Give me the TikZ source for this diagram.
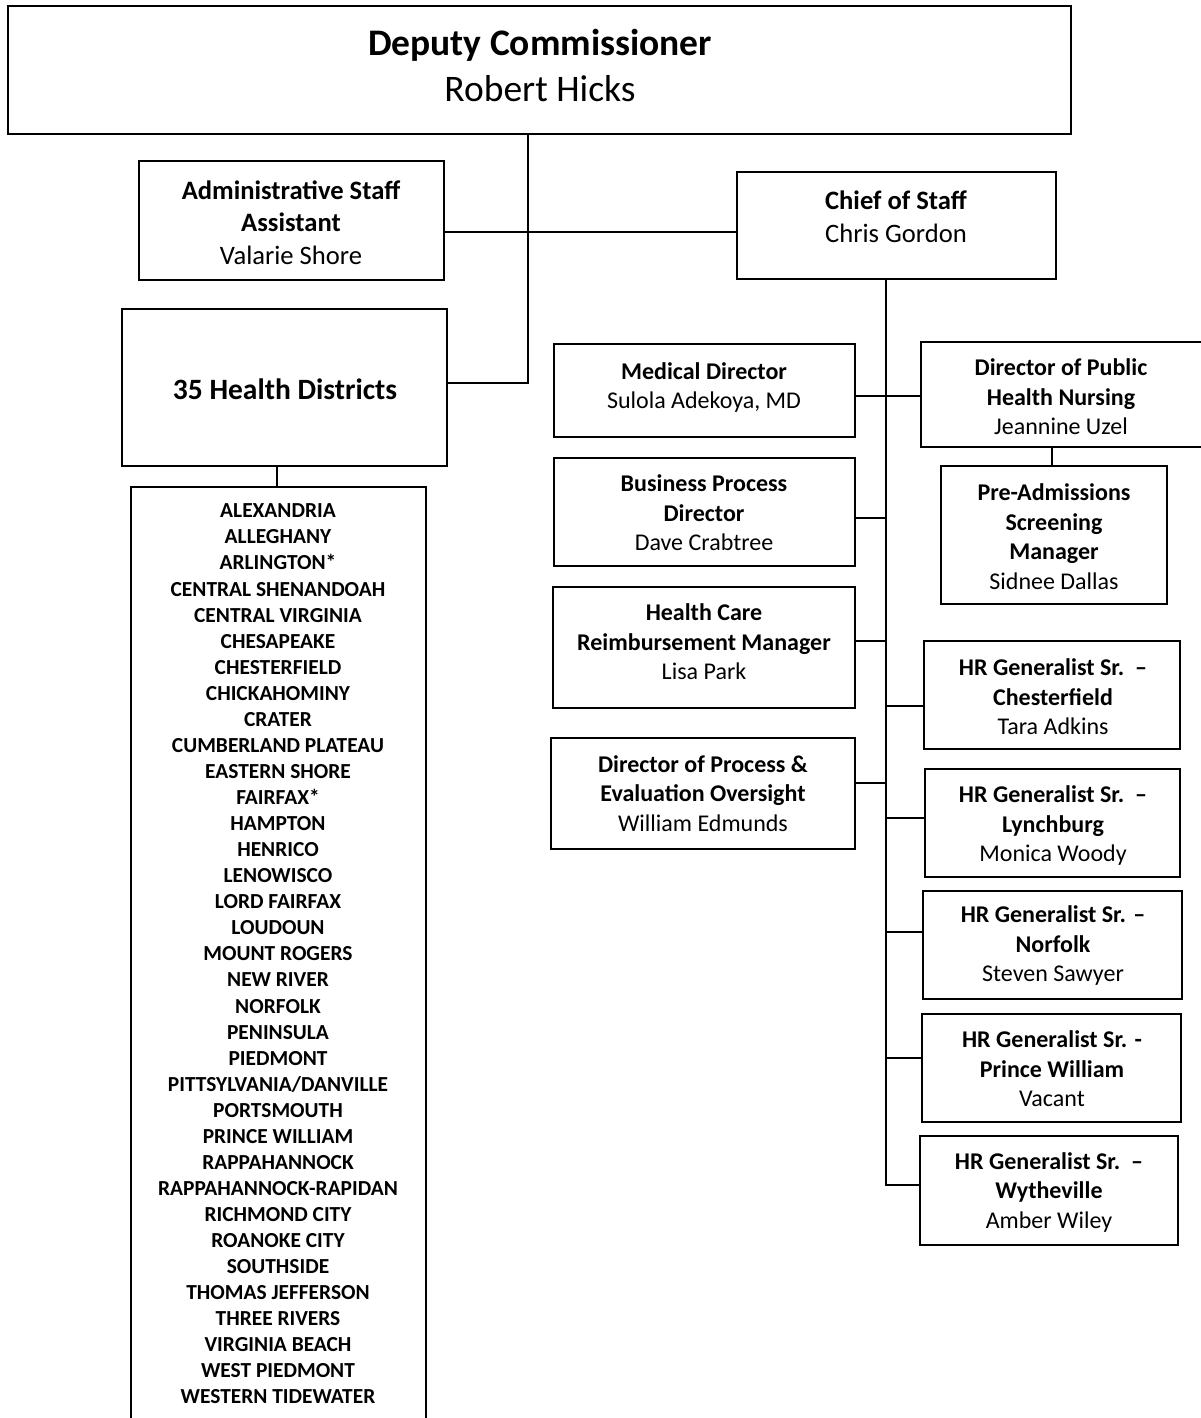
\documentclass[tikz,border=0pt]{standalone}
\usepackage{fontspec}
\setmainfont{Carlito}
\newcommand\obox[6]{\node[box, minimum width={(#4-#2)*1pt}, minimum height={(#5-#3)*1pt}] (#1) at ({(#2+#4)/2},{(#3+#5)/2}) {};}
\begin{document}
\begin{tikzpicture}[x=1pt,y=-1pt,
  box/.style={draw, line width=1.8pt, inner sep=0pt, rectangle},
  txt/.style={align=center, inner sep=0pt, font=\fontsize{24}{29.5}\selectfont},
  txtb/.style={align=center, inner sep=0pt, font=\fontsize{26.6}{32.5}\selectfont},
  big/.style={align=center, inner sep=0pt, font=\fontsize{37.5}{46}\selectfont},
  lst/.style={align=center, inner sep=0pt, font=\fontsize{21.4}{26.06}\selectfont\bfseries},
  link/.style={line width=1.8pt}]
\useasboundingbox (0,0) rectangle (1201,1418);
\fill[white] (0,0) rectangle (1201,1418);

% boxes
\obox{dep}{8}{6}{1071}{134}{}
\obox{adm}{139}{161}{444}{280}{}
\obox{hd}{122}{309}{447}{466}{}
\obox{lst}{131}{487}{426}{1440}{}
\obox{cos}{737}{172}{1056}{279}{}
\obox{md}{554}{344}{855}{437}{}
\obox{ph}{921}{342}{1210}{447}{}
\obox{pa}{941}{466}{1167}{604}{}
\obox{bp}{554}{458}{855}{566}{}
\obox{hc}{553}{587}{855}{708}{}
\obox{po}{551}{738}{855}{849}{}
\obox{hr1}{924}{641}{1180}{749}{}
\obox{hr2}{925}{769}{1180}{877}{}
\obox{hr3}{923}{891}{1182}{999}{}
\obox{hr4}{922}{1014}{1181}{1122}{}
\obox{hr5}{920}{1136}{1178}{1245}{}

% texts
\node[big] (tdep) at (540,65) {\textbf{Deputy Commissioner}\\Robert Hicks};
\node[txtb] (tadm) at (291,222.5) {\textbf{Administrative Staff}\\\textbf{Assistant}\\Valarie Shore};
\node[txt, font=\fontsize{29.5}{34}\selectfont] (thd) at (285,389) {\textbf{35 Health Districts}};
\node[txtb] (tcos) at (896,217) {\textbf{Chief of Staff}\\Chris Gordon};
\node[txt] (tmd) at (704,387.5) {\textbf{Medical Director}\\Sulola Adekoya, MD};
\node[txt] (tph) at (1061,397) {\textbf{Director of Public}\\\textbf{Health Nursing}\\Jeannine Uzel};
\node[txt] (tpa) at (1054,536.5) {\textbf{Pre-Admissions}\\\textbf{Screening}\\\textbf{Manager}\\Sidnee Dallas};
\node[txt] (tbp) at (704,513) {\textbf{Business Process}\\\textbf{Director}\\Dave Crabtree};
\node[txt] (thc) at (704,642) {\textbf{Health Care}\\\textbf{Reimbursement Manager}\\Lisa Park};
\node[txt] (tpo) at (703,793.5) {\textbf{Director of Process \&}\\\textbf{Evaluation Oversight}\\William Edmunds};
\node[txt] (thr1) at (1053,697) {\textbf{HR Generalist Sr.\ \ –}\\\textbf{Chesterfield}\\Tara Adkins};
\node[txt] (thr2) at (1053,826) {\textbf{HR Generalist Sr.\ \ –}\\\textbf{Lynchburg}\\Monica Woody};
\node[txt] (thr3) at (1053,946) {\textbf{HR Generalist Sr. –}\\\textbf{Norfolk}\\Steven Sawyer};
\node[txt] (thr4) at (1052,1069) {\textbf{HR Generalist Sr. -}\\\textbf{Prince William}\\Vacant};
\node[txt] (thr5) at (1049,1192) {\textbf{HR Generalist Sr.\ \ –}\\\textbf{Wytheville}\\Amber Wiley};
\node[lst] (tlst) at (278,954) {ALEXANDRIA\\ALLEGHANY\\ARLINGTON*\\CENTRAL SHENANDOAH\\CENTRAL VIRGINIA\\CHESAPEAKE\\CHESTERFIELD\\CHICKAHOMINY\\CRATER\\CUMBERLAND PLATEAU\\EASTERN SHORE\\FAIRFAX*\\HAMPTON\\HENRICO\\LENOWISCO\\LORD FAIRFAX\\LOUDOUN\\MOUNT ROGERS\\NEW RIVER\\NORFOLK\\PENINSULA\\PIEDMONT\\PITTSYLVANIA/DANVILLE\\PORTSMOUTH\\PRINCE WILLIAM\\RAPPAHANNOCK\\RAPPAHANNOCK-RAPIDAN\\RICHMOND CITY\\ROANOKE CITY\\SOUTHSIDE\\THOMAS JEFFERSON\\THREE RIVERS\\VIRGINIA BEACH\\WEST PIEDMONT\\WESTERN TIDEWATER};

% junction coordinates
\coordinate (j1) at (528,383);
\coordinate (jadm) at (528,232);
\coordinate (jl) at (277,0);
\coordinate (tr) at (886,1185);
\coordinate (ymd) at (886,396);
\coordinate (ybp) at (886,518);
\coordinate (yhc) at (886,641);
\coordinate (ypo) at (886,783);
\coordinate (yh1) at (886,706);
\coordinate (yh2) at (886,818);
\coordinate (yh3) at (886,932);
\coordinate (yh4) at (886,1058);
\coordinate (jpa) at (1052,0);

% connectors
\draw[link] (dep.south -| j1) -- (j1) -- (hd.east |- j1);
\draw[link] (adm.east |- jadm) -- (cos.west |- jadm);
\draw[link] (hd.south -| jl) -- (lst.north -| jl);
\draw[link] (cos.south -| tr) -- (tr) -- (hr5.west |- tr);
\draw[link] (md.east |- ymd) -- (ph.west |- ymd);
\draw[link] (bp.east |- ybp) -- (ybp);
\draw[link] (hc.east |- yhc) -- (yhc);
\draw[link] (po.east |- ypo) -- (ypo);
\draw[link] (yh1) -- (hr1.west |- yh1);
\draw[link] (yh2) -- (hr2.west |- yh2);
\draw[link] (yh3) -- (hr3.west |- yh3);
\draw[link] (yh4) -- (hr4.west |- yh4);
\draw[link] (ph.south -| jpa) -- (pa.north -| jpa);
\end{tikzpicture}
\end{document}
